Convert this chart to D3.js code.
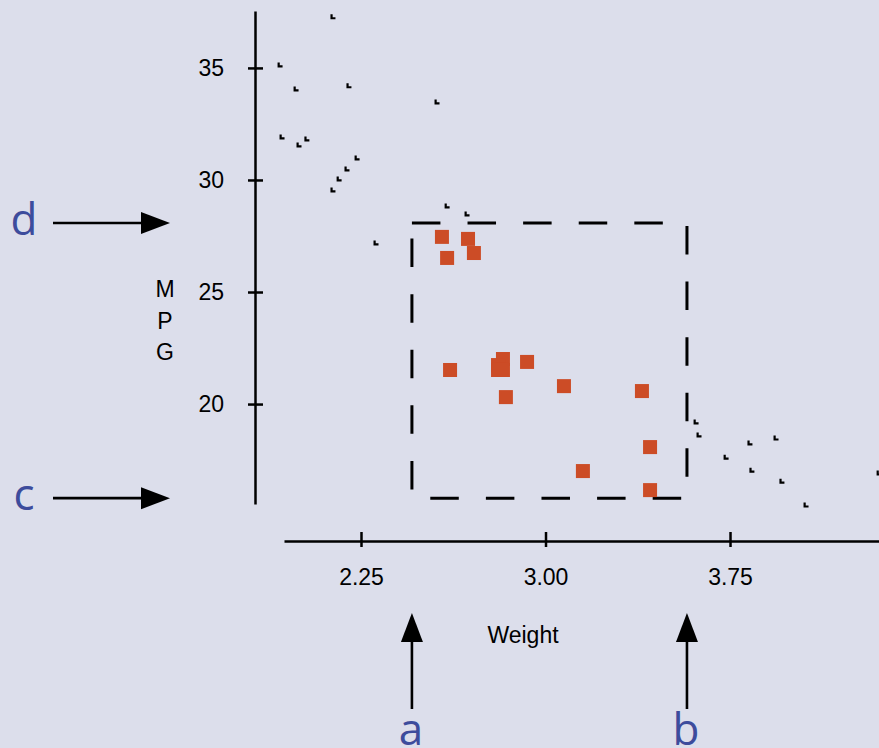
<!DOCTYPE html>
<html>
<head>
<meta charset="utf-8">
<script src="https://cdn.jsdelivr.net/npm/d3@7"></script>
<style>
	html, body { margin: 0; padding: 0; background: #dcdeeb; }
	svg { display: block; }
	text { font-family: "Liberation Sans", Arial, sans-serif; }
</style>
</head>
<body>
<script>
	// Car weight (1000 lbs) and fuel use (MPG)
	let weight = [
		2.136, 1.921, 1.986, 2.201, 2.559, 1.929, 1.998, 2.030, 2.234, 2.193,
		2.161, 2.136, 2.600, 2.311, 2.681, 3.612, 3.624, 3.831, 3.937, 3.734,
		3.839, 3.961, 4.059, 4.356,
		2.579, 2.685, 2.600, 2.709, 2.612, 2.827, 2.807, 2.807, 2.827, 2.925,
		2.839, 3.075, 3.392, 3.425, 3.152, 3.425
	];
	let mpg = [
		37.28, 35.13, 34.06, 34.20, 33.48, 31.92, 31.56, 31.83, 30.98, 30.49,
		30.04, 29.55, 28.84, 27.19, 28.48, 19.20, 18.62, 18.26, 18.48, 17.63,
		17.05, 16.56, 15.49, 16.92,
		27.46, 27.37, 26.52, 26.74, 21.52, 22.01, 21.74, 21.52, 21.52, 21.88,
		20.31, 20.80, 20.58, 18.08, 17.01, 16.16
	];
	let xTicks = [2.25, 3.00, 3.75];
	let yTicks = [20, 25, 30, 35];
	// brush rectangle in data units: [weight0, weight1], [mpg0, mpg1]
	let brushWeight = [2.457, 3.575];
	let brushMpg = [15.80, 28.08];

	let width = 879, height = 748;
	let orange = '#cc4c26', blue = '#3d4c9c';

	let svg = d3.select('body').append('svg')
		.attr('width', width)
		.attr('height', height);

	let x = d3.scaleLinear().domain([1.937, 4.38]).range([284, 885]);
	let y = d3.scaleLinear().domain([15.54, 37.54]).range([504, 11]);

	let data = weight.map((w, i) => ({w: w, m: mpg[i]}));
	let inBrush = d => d.w >= brushWeight[0] && d.w <= brushWeight[1] &&
		d.m >= brushMpg[0] && d.m <= brushMpg[1];

	// Axes
	let xAxis = svg.append('g')
		.attr('transform', 'translate(0,541)')
		.call(d3.axisBottom(x).tickValues(xTicks).tickFormat(d3.format('.2f')).tickSizeOuter(0));
	xAxis.selectAll('.tick line').attr('y1', -9).attr('y2', 6);
	xAxis.selectAll('.tick text').attr('y', 36).attr('dy', '0.35em');

	let yAxis = svg.append('g')
		.attr('transform', 'translate(255,0)')
		.call(d3.axisLeft(y).tickValues(yTicks).tickSizeOuter(0));
	yAxis.selectAll('.tick line').attr('x1', -7).attr('x2', 8);
	yAxis.selectAll('.tick text').attr('x', -31);

	svg.selectAll('.domain, .tick line')
		.attr('stroke', '#000')
		.attr('stroke-width', 2.5);
	svg.selectAll('.tick text')
		.attr('fill', '#000')
		.style('font-size', '23px')
		.style('font-family', '"Liberation Sans", Arial, sans-serif');

	// Axis titles
	svg.append('text')
		.attr('x', 523).attr('y', 635)
		.attr('dy', '0.35em')
		.attr('text-anchor', 'middle')
		.style('font-size', '23px')
		.text('Weight');
	svg.append('g').selectAll('text')
		.data(['M', 'P', 'G']).enter()
		.append('text')
			.attr('x', 165)
			.attr('y', (d, i) => 289 + i * 31.5)
			.attr('dy', '0.35em')
			.attr('text-anchor', 'middle')
			.style('font-size', '23px')
			.text(d => d);

	// Brush rectangle
	svg.append('rect')
		.attr('x', x(brushWeight[0]))
		.attr('y', y(brushMpg[1]))
		.attr('width', x(brushWeight[1]) - x(brushWeight[0]))
		.attr('height', y(brushMpg[0]) - y(brushMpg[1]))
		.attr('fill', 'none')
		.attr('stroke', '#000')
		.attr('stroke-width', 3)
		.attr('stroke-dasharray', '28.5,27.1');

	// Points: small L glyphs outside, orange squares inside the brush
	let pts = svg.append('g');
	pts.selectAll('path')
		.data(data.filter(d => !inBrush(d))).enter()
		.append('path')
			.attr('transform', d => 'translate(' + x(d.w) + ',' + y(d.m) + ')')
			.attr('d', 'M-2.5,-2.5h2.2v2.8h2.8v2.2h-5z')
			.attr('fill', '#000');
	pts.selectAll('rect')
		.data(data.filter(inBrush)).enter()
		.append('rect')
			.attr('x', d => x(d.w) - 7)
			.attr('y', d => y(d.m) - 7)
			.attr('width', 14)
			.attr('height', 14)
			.attr('fill', orange);

	// Arrows and labels
	function arrow(g, x1, y1, x2, y2){
		let a = Math.atan2(y2 - y1, x2 - x1), len = 29, half = 11;
		let bx = x2 - len * Math.cos(a), by = y2 - len * Math.sin(a);
		g.append('line')
			.attr('x1', x1).attr('y1', y1)
			.attr('x2', bx).attr('y2', by)
			.attr('stroke', '#000')
			.attr('stroke-width', 2.6);
		g.append('path')
			.attr('d', 'M' + x2 + ',' + y2 +
				'L' + (bx - half * Math.sin(a)) + ',' + (by + half * Math.cos(a)) +
				'L' + (bx + half * Math.sin(a)) + ',' + (by - half * Math.cos(a)) + 'Z')
			.attr('fill', '#000');
	}
	let ann = svg.append('g');
	[['a', brushWeight[0]], ['b', brushWeight[1]]].forEach(d => {
		arrow(ann, x(d[1]), 709, x(d[1]), 613);
		ann.append('text')
			.attr('x', x(d[1]) - 1).attr('y', 745)
			.attr('text-anchor', 'middle')
			.attr('fill', blue)
			.style('font-family', '"Open Sans", sans-serif')
			.style('font-size', '44px')
			.text(d[0]);
	});
	[['d', brushMpg[1]], ['c', brushMpg[0]]].forEach(d => {
		arrow(ann, 53, y(d[1]), 170, y(d[1]));
		ann.append('text')
			.attr('x', 24).attr('y', y(d[1]) + 12)
			.attr('text-anchor', 'middle')
			.attr('fill', blue)
			.style('font-family', '"Open Sans", sans-serif')
			.style('font-size', '44px')
			.text(d[0]);
	});
</script>
</body>
</html>
